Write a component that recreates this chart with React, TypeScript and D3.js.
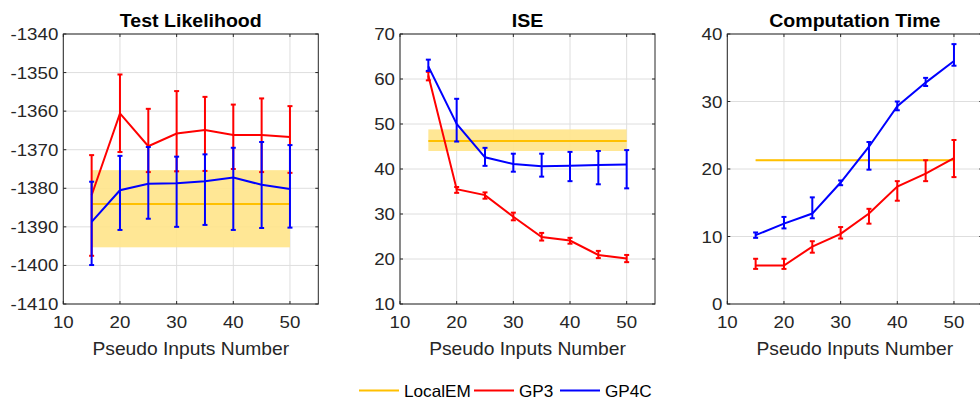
import React from "react";
import * as d3 from "d3";

const X = [15, 20, 25, 30, 35, 40, 45, 50];
const X_TICKS = [10, 20, 30, 40, 50];

const LIK_TICKS = [-1410, -1400, -1390, -1380, -1370, -1360, -1350, -1340];
const gp3LikMean = [-1381.8, -1360.6, -1369.1, -1365.8, -1364.9, -1366.2, -1366.2, -1366.7];
const gp3LikUpper = [-1371.4, -1350.5, -1359.4, -1354.8, -1356.3, -1358.3, -1356.7, -1358.7];
const gp3LikLower = [-1397.5, -1370.6, -1375.8, -1375.6, -1375.5, -1375.0, -1375.8, -1376.0];
const gp4cLikMean = [-1388.7, -1380.5, -1378.8, -1378.7, -1378.2, -1377.2, -1379.1, -1380.2];
const gp4cLikUpper = [-1378.3, -1371.6, -1369.3, -1371.8, -1371.2, -1369.5, -1368.0, -1368.8];
const gp4cLikLower = [-1399.9, -1390.8, -1387.9, -1390.0, -1389.5, -1390.8, -1390.3, -1390.2];
const localEMLik = [-1384.1, -1395.3, -1375.3]; // mean, lower, upper

const ISE_TICKS = [10, 20, 30, 40, 50, 60, 70];
const gp3IseMean = [60.8, 35.5, 34.2, 29.4, 24.9, 24.1, 20.9, 20.1];
const gp3IseUpper = [61.6, 36.0, 34.8, 30.3, 25.8, 24.7, 21.8, 20.9];
const gp3IseLower = [59.7, 34.7, 33.4, 28.6, 24.1, 23.4, 20.2, 19.3];
const gp4cIseMean = [62.8, 50.0, 42.6, 41.1, 40.6, 40.7, 40.9, 41.0];
const gp4cIseUpper = [64.3, 55.6, 44.7, 43.4, 43.4, 43.8, 44.0, 44.2];
const gp4cIseLower = [61.8, 46.1, 40.7, 39.4, 38.3, 37.3, 36.6, 35.7];
const localEMIse = [46.2, 44.0, 48.8];

const TIME_TICKS = [0, 10, 20, 30, 40];
const gp3TimeMean = [5.7, 5.7, 8.5, 10.4, 13.4, 17.4, 19.3, 21.6];
const gp3TimeUpper = [6.7, 6.7, 9.3, 11.4, 14.1, 18.2, 21.3, 24.3];
const gp3TimeLower = [5.2, 5.2, 7.6, 9.7, 11.9, 15.3, 18.2, 18.8];
const gp4cTimeMean = [10.2, 11.9, 13.4, 18.0, 23.3, 29.3, 32.8, 36.0];
const gp4cTimeUpper = [10.6, 12.9, 15.8, 18.3, 24.0, 30.0, 33.5, 38.5];
const gp4cTimeLower = [9.8, 11.2, 12.7, 17.6, 19.9, 28.7, 32.3, 35.3];
const localEMTime = [21.3, 21.2, 21.4];

const TITLES = ["Test Likelihood", "ISE", "Computation Time"];
const X_LABEL = "Pseudo Inputs Number";
const LEGEND = ["LocalEM", "GP3", "GP4C"];

const YELLOW = "#FFC000";
const BAND = "#FFE48A";
const RED = "#FF0000";
const BLUE = "#0000FF";
const AXIS = "#262626";
const GRID = "#DEDEDE";

const FONT = "'Liberation Sans', Arial, Helvetica, sans-serif";

const PANEL_W = 255;
const PANEL_TOP = 34;
const PANEL_H = 270;

type Series = { mean: number[]; lower: number[]; upper: number[] };

const panels = [
  {
    left: 63.3,
    domain: [-1410, -1340],
    ticks: LIK_TICKS,
    title: TITLES[0],
    local: localEMLik,
    gp3: { mean: gp3LikMean, lower: gp3LikLower, upper: gp3LikUpper },
    gp4c: { mean: gp4cLikMean, lower: gp4cLikLower, upper: gp4cLikUpper },
  },
  {
    left: 400,
    domain: [10, 70],
    ticks: ISE_TICKS,
    title: TITLES[1],
    local: localEMIse,
    gp3: { mean: gp3IseMean, lower: gp3IseLower, upper: gp3IseUpper },
    gp4c: { mean: gp4cIseMean, lower: gp4cIseLower, upper: gp4cIseUpper },
  },
  {
    left: 727.3,
    domain: [0, 40],
    ticks: TIME_TICKS,
    title: TITLES[2],
    local: localEMTime,
    gp3: { mean: gp3TimeMean, lower: gp3TimeLower, upper: gp3TimeUpper },
    gp4c: { mean: gp4cTimeMean, lower: gp4cTimeLower, upper: gp4cTimeUpper },
  },
];

function SText(props: any) {
  const { x, y, sx = 1.1, children, ...rest } = props;
  return (
    <text transform={`translate(${x},${y}) scale(${sx},1)`} fontFamily={FONT} {...rest}>
      {children}
    </text>
  );
}

function ErrSeries({ s, color, xs, ys }: { s: Series; color: string; xs: any; ys: any }) {
  const line = d3
    .line<number>()
    .x((_, i) => xs(X[i]))
    .y((d) => ys(d));
  const cap = 2.5;
  return (
    <g>
      <path d={line(s.mean) || ""} fill="none" stroke={color} strokeWidth={2} />
      {X.map((xv, i) => {
        const px = xs(xv);
        const yt = ys(s.upper[i]);
        const yb = ys(s.lower[i]);
        return (
          <g key={i} stroke={color} strokeWidth={2}>
            <line x1={px} x2={px} y1={yt} y2={yb} />
            <line x1={px - cap} x2={px + cap} y1={yt} y2={yt} />
            <line x1={px - cap} x2={px + cap} y1={yb} y2={yb} />
          </g>
        );
      })}
    </g>
  );
}

function Panel({ p }: { p: any }) {
  const xs = d3.scaleLinear().domain([10, 55]).range([p.left, p.left + PANEL_W]);
  const ys = d3.scaleLinear().domain(p.domain).range([PANEL_TOP + PANEL_H, PANEL_TOP]);
  const x0 = p.left;
  const x1 = p.left + PANEL_W;
  const y0 = PANEL_TOP + PANEL_H;
  const y1 = PANEL_TOP;
  const tl = 3;
  const [lm, llo, lhi] = p.local;
  return (
    <g>
      {X_TICKS.map((t) => (
        <line key={"gx" + t} x1={xs(t)} x2={xs(t)} y1={y0} y2={y1} stroke={GRID} strokeWidth={1} />
      ))}
      {p.ticks.map((t: number) => (
        <line key={"gy" + t} x1={x0} x2={x1} y1={ys(t)} y2={ys(t)} stroke={GRID} strokeWidth={1} />
      ))}
      <rect
        x={xs(X[0])}
        width={xs(X[X.length - 1]) - xs(X[0])}
        y={ys(lhi)}
        height={Math.max(0, ys(llo) - ys(lhi))}
        fill={BAND}
        opacity={0.9}
      />
      <line x1={xs(X[0])} x2={xs(X[X.length - 1])} y1={ys(lm)} y2={ys(lm)} stroke={YELLOW} strokeWidth={2} />
      <ErrSeries s={p.gp3} color={RED} xs={xs} ys={ys} />
      <ErrSeries s={p.gp4c} color={BLUE} xs={xs} ys={ys} />
      <rect x={x0} y={y1} width={PANEL_W} height={PANEL_H} fill="none" stroke={AXIS} strokeWidth={1} />
      {X_TICKS.map((t) => (
        <g key={"tx" + t} stroke={AXIS}>
          <line x1={xs(t)} x2={xs(t)} y1={y0} y2={y0 - tl} />
          <line x1={xs(t)} x2={xs(t)} y1={y1} y2={y1 + tl} />
        </g>
      ))}
      {p.ticks.map((t: number) => (
        <g key={"ty" + t} stroke={AXIS}>
          <line x1={x0} x2={x0 + tl} y1={ys(t)} y2={ys(t)} />
          <line x1={x1} x2={x1 - tl} y1={ys(t)} y2={ys(t)} />
        </g>
      ))}
      {X_TICKS.map((t) => (
        <SText key={"lx" + t} x={xs(t)} y={y0 + 24} fontSize={17} fill={AXIS} textAnchor="middle">
          {t}
        </SText>
      ))}
      {p.ticks.map((t: number) => (
        <SText key={"ly" + t} x={x0 - 5} y={ys(t) + 6} fontSize={17} fill={AXIS} textAnchor="end">
          {t}
        </SText>
      ))}
      <SText x={(x0 + x1) / 2} y={355} fontSize={17.5} fill={AXIS} textAnchor="middle">
        {X_LABEL}
      </SText>
      <SText x={(x0 + x1) / 2} y={27} sx={1.03} fontSize={19} fontWeight="bold" fill="#000" textAnchor="middle">
        {p.title}
      </SText>
    </g>
  );
}

export default function App() {
  const legendColors = [YELLOW, RED, BLUE];
  const legendX = [359, 474, 560];
  return (
    <svg
      width={980}
      height={401}
      style={{ position: "absolute", left: 0, top: 0, background: "#fff" }}
    >
      <rect x={0} y={0} width={980} height={401} fill="#fff" />
      {panels.map((p, i) => (
        <Panel key={i} p={p} />
      ))}
      {LEGEND.map((name, i) => (
        <g key={name}>
          <line x1={legendX[i]} x2={legendX[i] + 40} y1={390.5} y2={390.5} stroke={legendColors[i]} strokeWidth={2} />
          <SText x={legendX[i] + 45} y={397} sx={1.04} fontSize={16.5} fill="#000">
            {name}
          </SText>
        </g>
      ))}
    </svg>
  );
}
